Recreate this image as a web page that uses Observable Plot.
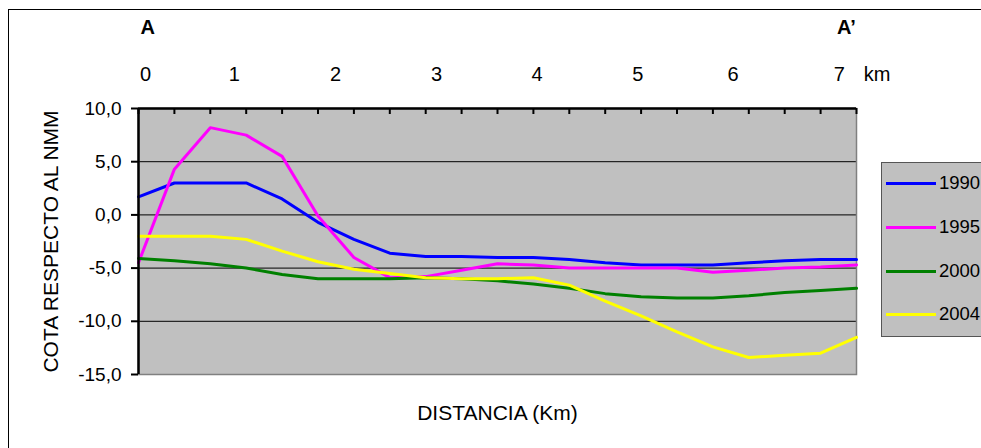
<!DOCTYPE html>
<html>
<head>
<meta charset="utf-8">
<script src="https://cdn.jsdelivr.net/npm/d3@7"></script>
<script src="https://cdn.jsdelivr.net/npm/@observablehq/plot@0.6"></script>
<style>
  html, body { margin: 0; padding: 0; background: #fff; }
  #wrap { position: relative; width: 981px; height: 448px; overflow: hidden; font-family: "Liberation Sans", Arial, sans-serif; }
  #wrap svg { position: absolute; left: 0; top: 0; }
  #border { position: absolute; left: 8px; top: 9px; width: 1100px; height: 600px; border: 1.3px solid #000; box-sizing: border-box; }
  #legend { position: absolute; left: 881px; top: 162px; width: 120px; height: 175px; background: #c0c0c0; border: 1px solid #555; box-sizing: border-box; }
  .lg-row { position: absolute; left: 0; height: 20px; display: flex; align-items: center; }
  .lg-line { width: 50px; height: 3px; margin-left: 4px; }
  .lg-text { font-size: 18.5px; margin-left: 3px; color: #000; }
</style>
</head>
<body>
<div id="wrap">
  <div id="border"></div>
</div>
<script>
// Puntos del perfil (categorías del eje X)
const puntos = [0,1,2,3,4,5,6,7,8,9,10,11,12,13,14,15,16,17,18,19,20];

// Series (cota respecto al NMM)
const series = ["1990", "1995", "2000", "2004"];
const colores = ["#0000ff", "#ff00ff", "#008000", "#ffff00"];
const s1990 = [1.7, 3.0, 3.0, 3.0, 1.5, -0.7, -2.3, -3.6, -3.9, -3.9, -4.0, -4.0, -4.2, -4.5, -4.7, -4.7, -4.7, -4.5, -4.3, -4.2, -4.2];
const s1995 = [-4.5, 4.3, 8.2, 7.5, 5.5, -0.1, -4.0, -5.9, -5.8, -5.2, -4.6, -4.7, -5.0, -5.0, -5.0, -5.0, -5.4, -5.2, -5.0, -4.9, -4.7];
const s2000 = [-4.1, -4.3, -4.6, -5.0, -5.6, -6.0, -6.0, -6.0, -5.9, -6.0, -6.2, -6.5, -6.9, -7.4, -7.7, -7.8, -7.8, -7.6, -7.3, -7.1, -6.9];
const s2004 = [-2.0, -2.0, -2.0, -2.3, -3.4, -4.4, -5.1, -5.5, -5.9, -6.0, -6.0, -5.9, -6.6, -8.1, -9.5, -11.0, -12.4, -13.4, -13.2, -13.0, -11.5];

// Eje Y
const yTicks = [10, 5, 0, -5, -10, -15];
const gridVals = [5, 0, -5, -10];

// Escala de distancia (km) superior, en posiciones de categoría
const kmLabels = ["0", "1", "2", "3", "4", "5", "6", "7", "km"];
const kmPos = [0.2, 2.67, 5.49, 8.3, 11.1, 13.91, 16.56, 19.52, 20.57];
const extremos = ["A", "A\u2019"];
const extremosPos = [0.26, 19.72];

const yTitle = "COTA RESPECTO AL NMM";
const xTitle = "DISTANCIA (Km)";

const valores = [s1990, s1995, s2000, s2004];
const tabla = [];
series.forEach((s, k) => puntos.forEach((p, j) => tabla.push({serie: s, i: p, v: valores[k][j]})));

const W = 981, H = 448;
const mL = 138, mR = 125, mT = 108, mB = 74;
const frameH = H - mT - mB;
const fmt = d => d.toFixed(1).replace(".", ",");

const chart = Plot.plot({
  width: W,
  height: H,
  marginLeft: mL,
  marginRight: mR,
  marginTop: mT,
  marginBottom: mB,
  style: {fontFamily: "'Liberation Sans', Arial, sans-serif", background: "transparent", color: "#000"},
  x: {domain: [0, 20], axis: null},
  y: {domain: [-15, 10], axis: null},
  color: {domain: series, range: colores},
  marks: [
    Plot.frame({fill: "#c0c0c0", stroke: null}),
    Plot.ruleY(gridVals, {stroke: "#000", strokeWidth: 1}),
    Plot.frame({stroke: "#808080", strokeWidth: 1.5}),
    Plot.line(tabla, {x: "i", y: "v", z: "serie", stroke: "serie", strokeWidth: 3, strokeLinejoin: "round"}),
    Plot.ruleX([0], {stroke: "#000", strokeWidth: 2.5}),
    Plot.ruleY([10], {stroke: "#000", strokeWidth: 2.5}),
    Plot.ruleX(puntos, {x: d => d, insetBottom: frameH - 6, stroke: "#000", strokeWidth: 2}),
    Plot.axisY({ticks: yTicks, tickFormat: fmt, tickSize: 7, tickPadding: 10, fontSize: 19, strokeWidth: 2, label: null}),
    Plot.text(kmLabels, {x: (d, j) => kmPos[j], text: d => d, frameAnchor: "top", lineAnchor: "middle", textAnchor: "middle", dy: -34, fontSize: 20, fill: "#000"}),
    Plot.text(extremos, {x: (d, j) => extremosPos[j], text: d => d, frameAnchor: "top", lineAnchor: "middle", textAnchor: "middle", dy: -81, fontSize: 20, fontWeight: "bold", fill: "#000"}),
    Plot.text([xTitle], {frameAnchor: "bottom", lineAnchor: "middle", textAnchor: "middle", dy: 38.5, fontSize: 21, fill: "#000"}),
    Plot.text([yTitle], {frameAnchor: "left", lineAnchor: "middle", textAnchor: "middle", dx: -87.5, rotate: -90, fontSize: 21, fill: "#000"})
  ]
});

const wrap = document.getElementById("wrap");
wrap.appendChild(chart);

// Leyenda
const legend = document.createElement("div");
legend.id = "legend";
const rowTops = [10, 54, 98, 141];
series.forEach((s, k) => {
  const row = document.createElement("div");
  row.className = "lg-row";
  row.style.top = rowTops[k] + "px";
  const ln = document.createElement("div");
  ln.className = "lg-line";
  ln.style.background = colores[k];
  const tx = document.createElement("span");
  tx.className = "lg-text";
  tx.textContent = s;
  row.appendChild(ln);
  row.appendChild(tx);
  legend.appendChild(row);
});
wrap.appendChild(legend);
</script>
</body>
</html>
